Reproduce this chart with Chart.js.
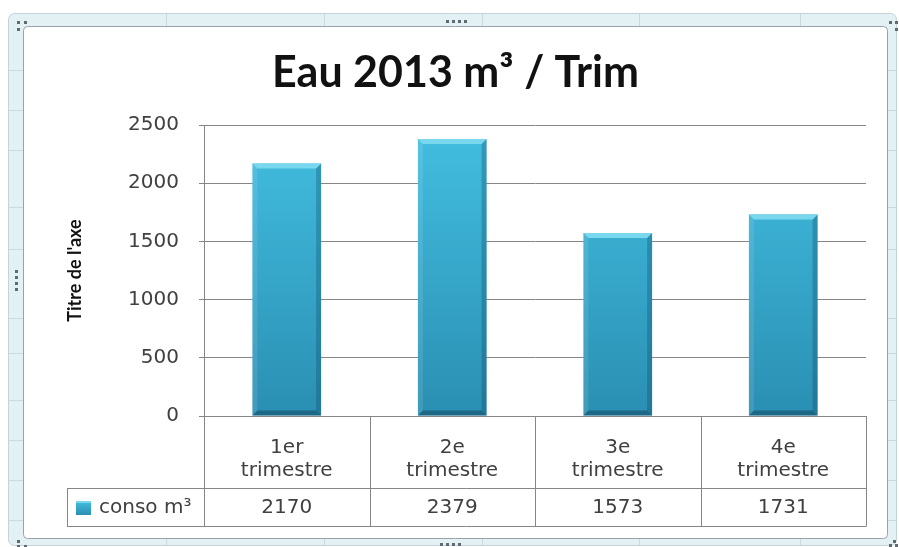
<!DOCTYPE html>
<html>
<head>
<meta charset="utf-8">
<title>Eau 2013</title>
<script src="https://cdn.jsdelivr.net/npm/chart.js@4/dist/chart.umd.min.js"></script>
<style>
  html, body { margin: 0; padding: 0; background: #ffffff; }
  #wrap { width: 899px; height: 547px; position: relative; }
</style>
</head>
<body>
<div id="wrap"><canvas id="c"></canvas></div>
<script>
// ---- data ----
const chartTitle = 'Eau 2013 m³ / Trim';
const axisTitle = "Titre de l'axe";
const seriesName = 'conso m³';
const categories = ['1er trimestre', '2e trimestre', '3e trimestre', '4e trimestre'];
const consumption = [2170, 2379, 1573, 1731];
const yTicks = [0, 500, 1000, 1500, 2000, 2500];

// ---- styling ----
const GRID = '#868686';
const TEXT = '#404040';
const TABLE_FONT = '20px "DejaVu Sans", Verdana, sans-serif';

function barGradient(ctx, top, bottom) {
  const g = ctx.createLinearGradient(0, top, 0, bottom);
  g.addColorStop(0, '#43bfe1');
  g.addColorStop(1, '#2a8fb2');
  return g;
}

// Excel-like selected chart frame
const framePlugin = {
  id: 'frame',
  beforeDraw(chart) {
    const ctx = chart.ctx;
    ctx.save();
    ctx.fillStyle = '#e3f1f5';
    ctx.strokeStyle = '#c3d3d9';
    ctx.lineWidth = 1;
    ctx.beginPath();
    ctx.roundRect(8.5, 13.5, 888, 532, 6);
    ctx.fill();
    ctx.stroke();

    // faint worksheet gridlines showing through the frame
    ctx.strokeStyle = '#cbd9de';
    [166, 324, 482, 639, 800].forEach(x => {
      ctx.beginPath();
      ctx.moveTo(x + 0.5, 14); ctx.lineTo(x + 0.5, 26);
      ctx.moveTo(x + 0.5, 539); ctx.lineTo(x + 0.5, 545);
      ctx.stroke();
    });
    [70, 110, 150, 207, 249, 318, 353, 400, 440, 480, 520].forEach(y => {
      ctx.beginPath();
      ctx.moveTo(9, y + 0.5); ctx.lineTo(23, y + 0.5);
      ctx.moveTo(888, y + 0.5); ctx.lineTo(896, y + 0.5);
      ctx.stroke();
    });

    ctx.fillStyle = '#ffffff';
    ctx.strokeStyle = '#98a2a8';
    ctx.beginPath();
    ctx.roundRect(23.5, 26.5, 864, 512, 4);
    ctx.fill();
    ctx.stroke();

    // sizing handles
    ctx.fillStyle = '#5f6a73';
    const dots = [
      [17, 21], [24, 21], [17, 28],
      [889, 21], [895, 21], [895, 28],
      [446, 20], [452, 20], [458, 20], [464, 20],
      [15, 270], [15, 276], [15, 282], [15, 288],
      [17, 540], [17, 545], [24, 545],
      [440, 543], [446, 543], [452, 543], [458, 543],
      [893, 540], [889, 544], [895, 544]
    ];
    dots.forEach(([x, y]) => ctx.fillRect(x, y, 3, 3));
    ctx.restore();
  }
};

// bevelled edges on the bars
const bevelPlugin = {
  id: 'bevel',
  afterDatasetsDraw(chart) {
    const ctx = chart.ctx;
    const meta = chart.getDatasetMeta(0);
    ctx.save();
    meta.data.forEach(bar => {
      const { x, y, base, width } = bar.getProps(['x', 'y', 'base', 'width'], true);
      const l = x - width / 2, r = x + width / 2, t = y, b = base;
      const e = 5;
      const poly = (pts, fill) => {
        ctx.beginPath();
        ctx.moveTo(pts[0][0], pts[0][1]);
        for (let i = 1; i < pts.length; i++) ctx.lineTo(pts[i][0], pts[i][1]);
        ctx.closePath();
        ctx.fillStyle = fill;
        ctx.fill();
      };
      poly([[l, t], [l + e, t + e], [l + e, b - e], [l, b]], 'rgba(255,255,255,0.10)');
      poly([[r, t], [r - e, t + e], [r - e, b - e], [r, b]], 'rgba(10,60,85,0.28)');
      poly([[l, b], [l + e, b - e], [r - e, b - e], [r, b]], 'rgba(10,55,80,0.45)');
      poly([[l, t], [r, t], [r - e, t + e], [l + e, t + e]], '#7ad8ee');
    });
    ctx.restore();
  }
};

// data table under the plot
const tablePlugin = {
  id: 'dataTable',
  afterDraw(chart) {
    const ctx = chart.ctx;
    const xs = chart.scales.x;
    const ys = chart.scales.y;
    const n = categories.length;
    const step = (xs.right - xs.left) / n;
    const top = Math.round(ys.bottom);
    const bottom = Math.round(xs.bottom);
    const rowMid = bottom - 38;
    const legendLeft = 67;

    ctx.save();
    ctx.strokeStyle = GRID;
    ctx.lineWidth = 1;
    ctx.beginPath();
    for (let i = 0; i <= n; i++) {
      const px = Math.round(xs.left + i * step) + 0.5;
      ctx.moveTo(px, top);
      ctx.lineTo(px, bottom + 0.5);
    }
    ctx.moveTo(legendLeft + 0.5, rowMid);
    ctx.lineTo(legendLeft + 0.5, bottom + 0.5);
    ctx.moveTo(legendLeft, rowMid + 0.5);
    ctx.lineTo(xs.right, rowMid + 0.5);
    ctx.moveTo(legendLeft, bottom + 0.5);
    ctx.lineTo(xs.right, bottom + 0.5);
    ctx.stroke();

    const cy = (rowMid + bottom) / 2 + 1;
    ctx.font = TABLE_FONT;
    ctx.fillStyle = TEXT;
    ctx.textAlign = 'center';
    ctx.textBaseline = 'middle';
    consumption.forEach((v, i) => {
      ctx.fillText(String(v), xs.getPixelForValue(i), cy);
    });

    // legend key
    ctx.fillStyle = barGradient(ctx, cy - 7, cy + 7);
    ctx.fillRect(76, cy - 7, 15, 14);
    ctx.fillStyle = '#7ad8ee';
    ctx.fillRect(76, cy - 7, 15, 2);
    ctx.fillStyle = TEXT;
    ctx.textAlign = 'left';
    ctx.fillText(seriesName, 99, cy);
    ctx.restore();
  }
};

new Chart(document.getElementById('c'), {
  type: 'bar',
  data: {
    labels: categories.map(c => c.split(' ')),
    datasets: [{
      label: seriesName,
      data: consumption,
      backgroundColor: (c) => {
        const a = c.chart.chartArea;
        if (!a) return '#36aed0';
        return barGradient(c.chart.ctx, a.top, a.bottom);
      },
      borderWidth: 0,
      barPercentage: 0.415,
      categoryPercentage: 1
    }]
  },
  options: {
    responsive: true,
    maintainAspectRatio: false,
    animation: false,
    layout: { padding: { left: 45, right: 33, top: 26, bottom: 21 } },
    plugins: {
      legend: { display: false },
      tooltip: { enabled: false },
      title: {
        display: true,
        text: chartTitle,
        color: '#111111',
        font: { family: 'Lato, "Liberation Sans", sans-serif', size: 43, weight: 'bold', lineHeight: 1.2 },
        padding: { top: 21, bottom: 26.4 }
      }
    },
    scales: {
      x: {
        grid: { display: false },
        border: { display: true, color: GRID },
        ticks: {
          color: TEXT,
          font: { family: '"DejaVu Sans", Verdana, sans-serif', size: 20, lineHeight: 1.15 },
          padding: 12,
          maxRotation: 0,
          autoSkip: false
        },
        afterFit: (s) => { s.height = 110; }
      },
      y: {
        min: yTicks[0],
        max: yTicks[yTicks.length - 1],
        grid: { color: GRID, tickLength: 5, drawTicks: true },
        border: { display: true, color: GRID },
        ticks: {
          stepSize: yTicks[1] - yTicks[0],
          color: TEXT,
          padding: 20,
          font: { family: '"DejaVu Sans", Verdana, sans-serif', size: 20 },
          callback: (v) => String(v)
        },
        title: {
          display: true,
          text: axisTitle,
          color: '#111111',
          font: { family: 'Lato, "Liberation Sans", sans-serif', size: 18, weight: 'bold' },
          padding: { top: 19, bottom: 0 }
        },
        afterFit: (s) => { s.width = 159; }
      }
    }
  },
  plugins: [framePlugin, bevelPlugin, tablePlugin]
});
</script>
</body>
</html>
